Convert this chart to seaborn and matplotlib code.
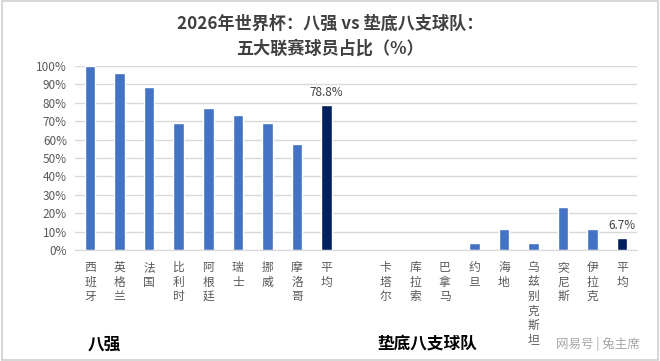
import pandas as pd
import matplotlib.pyplot as plt
import seaborn as sns
from matplotlib.patches import Rectangle

# data
top8_teams = ["西班牙", "英格兰", "法国", "比利时", "阿根廷", "瑞士", "挪威", "摩洛哥", "平均"]
top8_share = [100.0, 96.2, 88.5, 69.2, 76.9, 73.1, 69.2, 57.7, 78.8]
bottom8_teams = ["卡塔尔", "库拉索", "巴拿马", "约旦", "海地", "乌兹别克斯坦", "突尼斯", "伊拉克", "平均"]
bottom8_share = [0.0, 0.0, 0.0, 3.8, 11.5, 3.8, 23.1, 11.5, 6.7]
y_ticks = [0, 10, 20, 30, 40, 50, 60, 70, 80, 90, 100]

BLUE = "#4472C4"
NAVY = "#002060"

keys = [f"a{i}" for i in range(len(top8_teams))] + ["gap"] + [f"b{i}" for i in range(len(bottom8_teams))]
labels = top8_teams + [""] + bottom8_teams
values = top8_share + [0.0] + bottom8_share
colors = [NAVY if t == "平均" else BLUE for t in labels]

df = pd.DataFrame({"key": keys, "share": values})

sns.set_style("white")
plt.rcParams["font.family"] = ["Noto Sans CJK SC", "DejaVu Sans"]

fig = plt.figure(figsize=(6.6, 3.61), dpi=100)
ax = fig.add_axes([0.114, 0.3075, 0.851, 0.5097])

sns.barplot(data=df, x="key", y="share", hue="key", order=keys, hue_order=keys,
            palette=colors, legend=False, width=0.36, ax=ax, saturation=1)

ax.set_ylim(0, 100)
ax.set_xlim(-0.5, len(keys) - 0.5)
ax.set_yticks(y_ticks)
ax.set_yticklabels([f"{v}%" for v in y_ticks], fontsize=8.5, color="#595959")
ax.yaxis.grid(True, color="#D9D9D9", linewidth=1)
ax.set_axisbelow(True)
ax.set_xticks(range(len(keys)))
ax.set_xticklabels(["\n".join(l) for l in labels], fontsize=8.5, color="#595959",
                   va="top", linespacing=1.15)
ax.tick_params(axis="both", length=0)
ax.tick_params(axis="x", pad=8)
ax.tick_params(axis="y", pad=6)
ax.set_xlabel("")
ax.set_ylabel("")
for s in ["left", "right", "top"]:
    ax.spines[s].set_visible(False)
ax.spines["bottom"].set_color("#D9D9D9")

# value labels on the two averages
for i, (lab, v) in enumerate(zip(labels, values)):
    if lab == "平均":
        ax.text(i, v + 3, f"{v:.1f}%", ha="center", va="bottom", fontsize=8.5, color="#404040")

fig.text(0.5, 0.935, "2026年世界杯：八强 vs 垫底八支球队：", ha="center", va="center",
         fontsize=12.3, fontweight="bold", color="#404040")
fig.text(0.5, 0.865, "五大联赛球员占比（%）", ha="center", va="center",
         fontsize=12.3, fontweight="bold", color="#404040")

fig.text(0.158, 0.047, "八强", ha="center", va="center", fontsize=12, fontweight="bold", color="black")
fig.text(0.647, 0.047, "垫底八支球队", ha="center", va="center", fontsize=12, fontweight="bold", color="black")
fig.text(0.906, 0.047, "网易号 | 兔主席", ha="center", va="center", fontsize=9, color="#A6A6A6")

fig.patches.append(Rectangle((0.003, 0.004), 0.994, 0.992, transform=fig.transFigure,
                             fill=False, edgecolor="#D0D0D0", linewidth=1.2))

fig.savefig("out.png", dpi=100, facecolor="white")
